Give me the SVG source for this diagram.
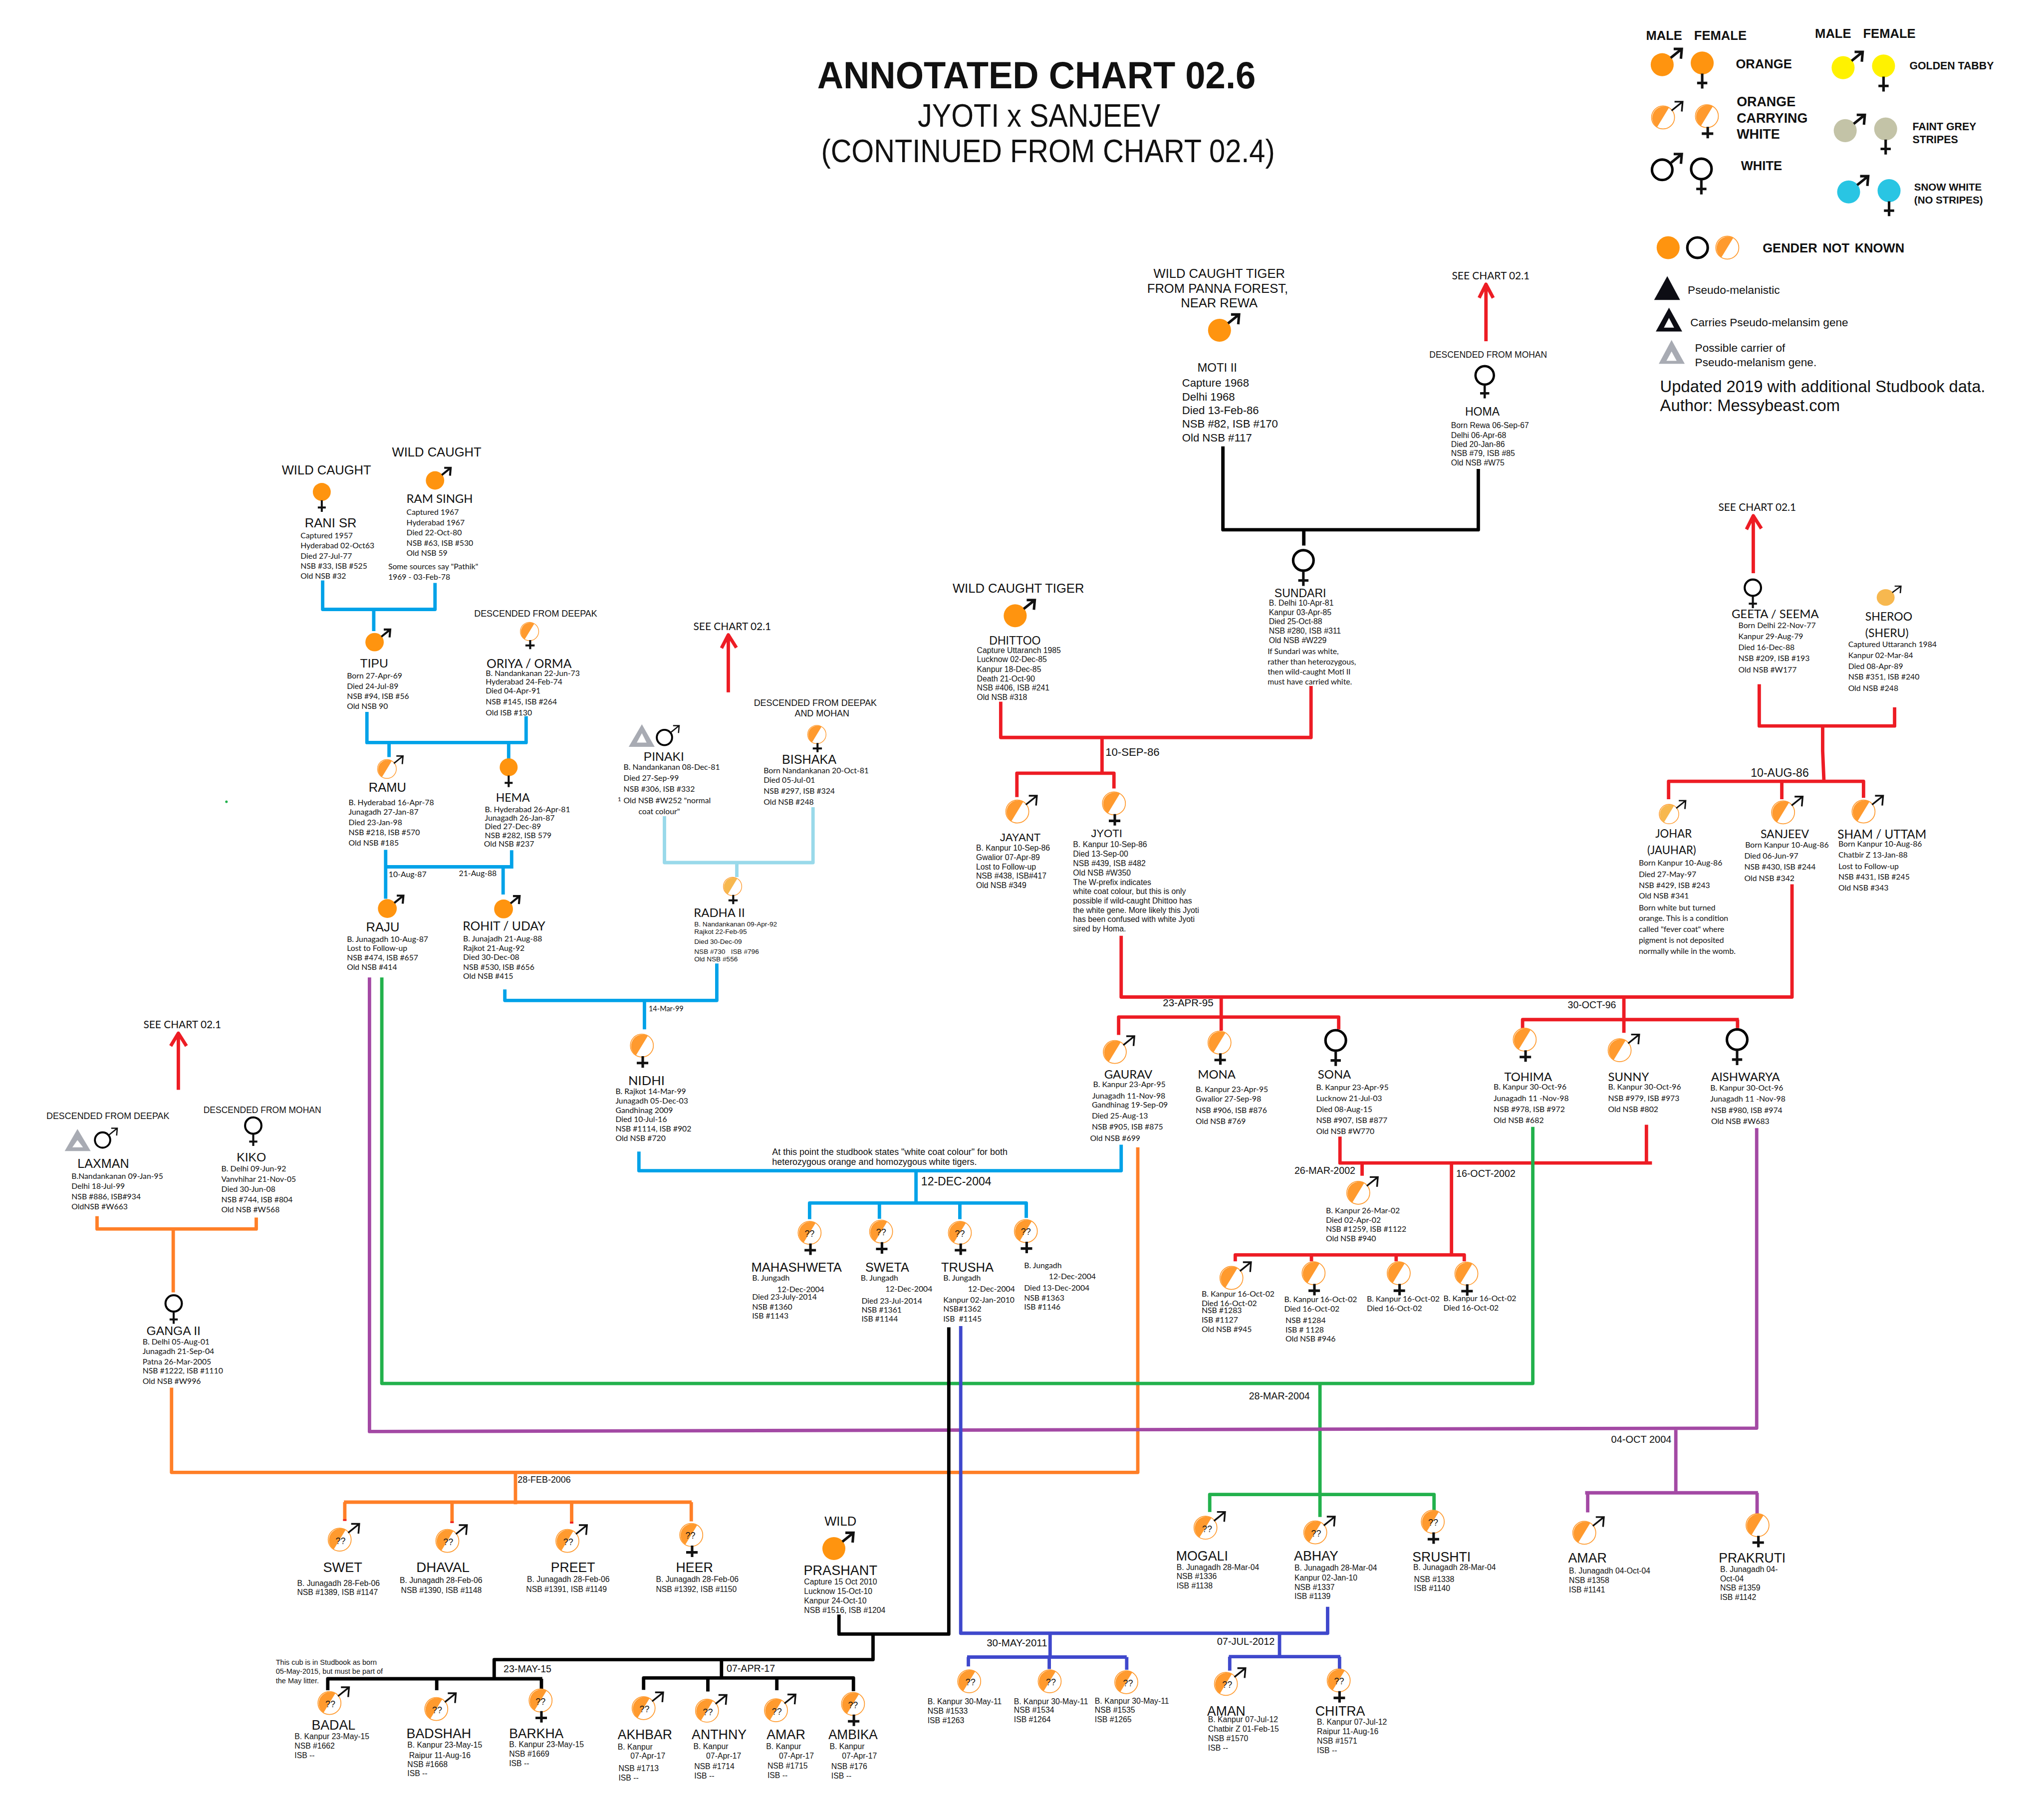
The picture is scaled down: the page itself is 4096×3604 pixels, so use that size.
<svg xmlns="http://www.w3.org/2000/svg" xmlns:xlink="http://www.w3.org/1999/xlink" width="4096" height="3604" viewBox="0 0 4096 3604">
<style>
text{fill:#111;font-family:"Liberation Sans",Arial,sans-serif;white-space:pre}
.d{font:18.5px Lato,"Liberation Sans",sans-serif}
.e{font:18.5px "Liberation Sans",Arial,sans-serif}
.e2{font:16px "Liberation Sans",Arial,sans-serif}
.n{font:29px Lato,"Liberation Sans",sans-serif}
.m{font:30px "Liberation Sans",Arial,sans-serif}
.b{font:33px "Liberation Sans",Arial,sans-serif}
.h{font:21px "Liberation Sans",Arial,sans-serif}
.c{font:24.5px Lato,"Liberation Sans",sans-serif}
.f{font:23px "Liberation Sans",Arial,sans-serif}
.q{font:21px "Liberation Sans",Arial,sans-serif;text-anchor:middle}
.lb{font:bold 30px "Liberation Sans",Arial,sans-serif}
.ls{font:bold 25px "Liberation Sans",Arial,sans-serif}
.ll{font:26.5px "Liberation Sans",Arial,sans-serif}
.lu{font:38.4px "Liberation Sans",Arial,sans-serif}
.w{font:30px "Liberation Sans",Arial,sans-serif}
#links path{fill:none;stroke-width:8;stroke-linejoin:round}
.sb{stroke:#00a2e8}.sl{stroke:#99d9ea}.sr{stroke:#ed1c24}.sg{stroke:#22b14c}.sp{stroke:#a349a4}.so{stroke:#ff7f27}.sk{stroke:#000}.si{stroke:#3f48cc}
.ar{fill:none;stroke:#111;stroke-width:6}
.at{fill:none;stroke:#111;stroke-width:4}
.cw{fill:#fff;stroke:#ff9a2e;stroke-width:2}
.co{fill:#ff940f}
.cf{fill:#ff9a2e}
.ct{fill:#f7b84f}
.wh{fill:#fff;stroke:#000;stroke-width:6}
</style>
<defs>
<path id="ma" class="ar" d="M20-16L46-37M27-37H46L44-14"/>
<path id="mt" class="at" d="M20-16L46-37M27-37H46L44-14"/>
<path id="fa" class="ar" d="M0 25V60M-12 47H12"/>
<path id="ft" class="ar" d="M2 25V52M-12 41H15"/>
<circle id="bo" class="co" r="27"/>
<g id="bh"><circle class="cw" r="27"/><path class="cf" d="M14-23A27 27 0 0 0-14 23Z"/></g>
<g id="bt"><circle class="cw" r="27"/><path class="ct" d="M14-23A27 27 0 0 0-14 23Z"/></g>
<g id="om"><use href="#bo"/><use href="#ma"/></g>
<g id="of"><use href="#bo"/><use href="#fa"/></g>
<g id="hm"><use href="#bh"/><use href="#mt"/></g>
<g id="hf"><use href="#bh"/><use href="#ft"/></g>
<g id="wm"><circle class="wh" r="24"/><use href="#ma"/></g>
<g id="wf"><circle class="wh" r="24"/><use href="#fa"/></g>
</defs>
<rect width="4096" height="3604" fill="#fff"/>
<g transform="scale(.85298)">
<g id="title">
<text x="1920" y="208" textLength="1030" lengthAdjust="spacingAndGlyphs" style="font:bold 90px 'Liberation Sans',Arial,sans-serif">ANNOTATED CHART 02.6</text>
<text x="2156" y="298" textLength="570" lengthAdjust="spacingAndGlyphs" style="font:76px 'Liberation Sans',Arial,sans-serif">JYOTI x SANJEEV</text>
<text x="1929" y="381" textLength="1066" lengthAdjust="spacingAndGlyphs" style="font:76px 'Liberation Sans',Arial,sans-serif">(CONTINUED FROM CHART 02.4)</text>
</g>
<g id="links">
<path class="sb" d="M758 1364V1432H1022V1370M878 1432V1483M862 1673V1745H1236V1683M914 1745V1779M1195 1745V1784M906 1997V2112M906 2037H1206M1202 1998V2039M1182 2037V2102M1186 2325V2351H1684V2264M1514 2351V2419M1501 2706V2751H2634V2690M2152 2751V2827M1902 2865V2827H2411V2862M2066 2827V2864M2255 2827V2865"/>
<path class="sl" d="M1561 1918V2027H1910V1897M1731 2027V2061"/>
<path class="sr" d="M1711 1627V1492M1695 1523L1711 1492L1730 1522M419 2561V2428M401 2458L419 2428L438 2458M3491 802V668M3475 700L3491 668L3508 700M4119 1347V1212M4103 1244L4119 1212L4138 1242M3080 1612V1733H2351V1649M2589 1733V1817M2389 1873V1817H2617V1853M4133 1608V1706H4451V1662M4282 1706V1765L4285 1836M3920 1878V1836H4378V1875M4186 1836V1878M2634 2199V2343H4210V2078M2869 2343V2422M2628 2432V2390H3145V2419M3815 2343V2427M3577 2416V2396H4085M4082 2396V2416M3148 2671V2733H3881M3868 2643V2734M3200 2733V2763M3410 2733V2949M2902 2964V2949H3440V2964M3081 2949V2964M3280 2949V2964"/>
<path class="so" d="M228 2858V2888H602V2861M407 2888V3037M403 3261V3460H2673V2696M1211 3460V3535M808 3530H1625M810 3530V3574M1062 3530V3579M1343 3530V3580M1624 3530V3575"/>
<path class="sr" d="M810 3570V3574M1062 3575V3579M1343 3576V3580"/>
<path class="sg" d="M897 2297V3251H3601V2648M3101 3251V3565M2842 3553V3512H3369V3551"/>
<path class="sp" d="M868 2297V3364L4127 3356V2651M3937 3358V3506M3724 3508H4130M3730 3508V3554M4128 3508V3560"/>
<path class="sk" d="M2873 1049V1245H3473V1102M3063 1243V1282M2229 3119V3840H1971V3794M2051 3840V3900H1161V3942M770 3972V3945H1274M1026 3945V3972M1272 3945V3969M1695 3900V3944M1512 3971V3943H2005V3974M1663 3943V3975M1825 3943V3972"/>
<path class="si" d="M2257 3116V3838H3119V3776M2467 3838V3894M2272 3894H2647M2275 3894V3916M2465 3894V3922M2647 3894V3924M3006 3838V3893M2887 3893H3149M2889 3893V3926M3147 3893V3923"/>
</g>
<circle cx="532" cy="1884" r="3" fill="#22b14c"/>

<g id="n-rani"><text class="w" x="662" y="1115">WILD CAUGHT</text><use href="#of" transform="translate(756 1156) scale(.78)"/><text class="m" x="716" y="1239">RANI SR</text><text class="d"><tspan x="706" y="1265">Captured 1957</tspan><tspan x="706" y="1289">Hyderabad 02-Oct63</tspan><tspan x="706" y="1313">Died 27-Jul-77</tspan><tspan x="706" y="1337">NSB #33, ISB #525</tspan><tspan x="706" y="1360">Old NSB #32</tspan></text></g>
<g id="n-ramsingh"><text class="w" x="921" y="1073">WILD CAUGHT</text><use href="#om" transform="translate(1022 1129) scale(.8)"/><text class="n" x="955" y="1182" style="font-size:28px">RAM SINGH</text><text class="d"><tspan x="955" y="1210">Captured 1967</tspan><tspan x="955" y="1235">Hyderabad 1967</tspan><tspan x="955" y="1258">Died 22-Oct-80</tspan><tspan x="955" y="1283">NSB #63, ISB #530</tspan><tspan x="955" y="1306">Old NSB 59</tspan><tspan x="912" y="1338">Some sources say "Pathik"</tspan><tspan x="912" y="1362">1969 - 03-Feb-78</tspan></text></g>
<g id="n-tipu"><use href="#om" transform="translate(880 1509) scale(.8)"/><text class="m" x="846" y="1569" style="font-size:29px">TIPU</text><text class="d"><tspan x="815" y="1594">Born 27-Apr-69</tspan><tspan x="815" y="1619">Died 24-Jul-89</tspan><tspan x="815" y="1642">NSB #94, ISB #56</tspan><tspan x="815" y="1666">Old NSB 90</tspan></text></g>
<g id="n-oriya"><text class="h" x="1114" y="1449">DESCENDED FROM DEEPAK</text><use href="#hf" transform="translate(1244 1484) scale(.8)"/><text class="n" x="1143" y="1570">ORIYA / ORMA</text><text class="d"><tspan x="1141" y="1589">B. Nandankanan 22-Jun-73</tspan><tspan x="1141" y="1609">Hyderabad 24-Feb-74</tspan><tspan x="1141" y="1629">Died 04-Apr-91</tspan><tspan x="1141" y="1655">NSB #145, ISB #264</tspan><tspan x="1141" y="1681">Old ISB #130</tspan></text></g>
<g id="n-ramu"><use href="#hm" transform="translate(909 1807) scale(.82)"/><text class="m" x="866" y="1860">RAMU</text><text class="d"><tspan x="819" y="1892">B. Hyderabad 16-Apr-78</tspan><tspan x="819" y="1915">Junagadh 27-Jan-87</tspan><tspan x="819" y="1939">Died 23-Jan-98</tspan><tspan x="819" y="1963">NSB #218, ISB #570</tspan><tspan x="819" y="1987">Old NSB #185</tspan></text></g>
<g id="n-hema"><use href="#of" transform="translate(1195 1803) scale(.78)"/><text class="n" x="1165" y="1884" style="font-size:27px">HEMA</text><text class="d"><tspan x="1139" y="1909">B. Hyderabad 26-Apr-81</tspan><tspan x="1139" y="1929">Junagadh 26-Jan-87</tspan><tspan x="1139" y="1949">Died 27-Dec-89</tspan><tspan x="1139" y="1969">NSB #282, ISB 579</tspan><tspan x="1137" y="1990">Old NSB #237</tspan></text></g>
<g id="n-raju"><text class="d" x="913" y="2061">10-Aug-87</text><use href="#om" transform="translate(910 2135) scale(.82)"/><text class="m" x="860" y="2189">RAJU</text><text class="d"><tspan x="815" y="2214">B. Junagadh 10-Aug-87</tspan><tspan x="815" y="2235">Lost to Follow-up</tspan><tspan x="815" y="2257">NSB #474, ISB #657</tspan><tspan x="815" y="2279">Old NSB #414</tspan></text></g>
<g id="n-rohit"><text class="d" x="1078" y="2059">21-Aug-88</text><use href="#om" transform="translate(1183 2136) scale(.82)"/><text class="n" x="1087" y="2187">ROHIT / UDAY</text><text class="d"><tspan x="1088" y="2212">B. Junajadh 21-Aug-88</tspan><tspan x="1088" y="2235">Rajkot 21-Aug-92</tspan><tspan x="1088" y="2256">Died 30-Dec-08</tspan><tspan x="1088" y="2279">NSB #530, ISB #656</tspan><tspan x="1088" y="2300">Old NSB #415</tspan></text></g>
<g id="n-pinaki"><text class="c" x="1629" y="1481">SEE CHART 02.1</text><path fill="#a8abb3" fill-rule="evenodd" d="M1477 1755L1508 1702L1538 1755ZM1508 1723L1496 1745H1519Z"/><g transform="translate(1561 1733) scale(.75)"><circle r="24" fill="none" stroke="#000" stroke-width="6"/><use href="#mt"/></g><text class="m" x="1512" y="1788" style="font-size:29px">PINAKI</text><text class="d"><tspan x="1465" y="1809">B. Nandankanan 08-Dec-81</tspan><tspan x="1465" y="1835">Died 27-Sep-99</tspan><tspan x="1465" y="1861">NSB #306, ISB #332</tspan><tspan x="1465" y="1887">Old NSB #W252 "normal</tspan><tspan x="1500" y="1913">coat colour"</tspan></text><text class="d" x="1451" y="1883" style="font-size:14px">1</text></g>
<g id="n-bishaka"><text class="h"><tspan x="1771" y="1659">DESCENDED FROM DEEPAK</tspan><tspan x="1867" y="1683">AND MOHAN</tspan></text><use href="#hf" transform="translate(1919 1726) scale(.8)"/><text class="m" x="1837" y="1795" style="font-size:29.5px">BISHAKA</text><text class="d"><tspan x="1794" y="1817">Born Nandankanan 20-Oct-81</tspan><tspan x="1794" y="1840">Died 05-Jul-01</tspan><tspan x="1794" y="1865">NSB #297, ISB #324</tspan><tspan x="1794" y="1891">Old NSB #248</tspan></text></g>
<g id="n-radha"><g transform="translate(1721 2083) scale(.8)"><use href="#bt"/><use href="#ft"/></g><text class="n" x="1630" y="2155" style="font-size:28px">RADHA II</text><text class="e2"><tspan x="1631" y="2177">B. Nandankanan 09-Apr-92</tspan><tspan x="1631" y="2195">Rajkot 22-Feb-95</tspan><tspan x="1631" y="2218">Died 30-Dec-09</tspan><tspan x="1631" y="2241">NSB #730   ISB #796</tspan><tspan x="1631" y="2259">Old NSB #556</tspan></text></g>
<g id="n-nidhi"><text class="d" x="1524" y="2376" style="font-size:17px">14-Mar-99</text><use href="#hf" transform="translate(1508 2457)"/><text class="n" x="1476" y="2550" style="font-size:30px">NIDHI</text><text class="d"><tspan x="1446" y="2571">B. Rajkot 14-Mar-99</tspan><tspan x="1446" y="2593">Junagadh 05-Dec-03</tspan><tspan x="1446" y="2615">Gandhinag 2009</tspan><tspan x="1446" y="2637">Died 10-Jul-16</tspan><tspan x="1446" y="2659">NSB #1114, ISB #902</tspan><tspan x="1446" y="2681">Old NSB #720</tspan></text></g>
<g id="note-coat"><text class="e" style="font-size:21px"><tspan x="1814" y="2714">At this point the studbook states "white coat colour" for both</tspan><tspan x="1814" y="2738">heterozygous orange and homozygous white tigers.</tspan></text><text class="f" x="2164" y="2786" style="font-size:27px">12-DEC-2004</text></g>
<g id="n-mahashweta"><use href="#hf" transform="translate(1902 2897)"/><text class="q" x="1902" y="2906">??</text><text class="m" x="1765" y="2988">MAHASHWETA</text><text class="d"><tspan x="1767" y="3010">B. Jungadh</tspan><tspan x="1826" y="3036">12-Dec-2004</tspan><tspan x="1767" y="3054">Died 23-July-2014</tspan><tspan x="1767" y="3077">NSB #1360</tspan><tspan x="1767" y="3098">ISB #1143</tspan></text></g>
<g id="n-sweta"><use href="#hf" transform="translate(2070 2894)"/><text class="q" x="2070" y="2903">??</text><text class="m" x="2033" y="2988" style="font-size:29.5px">SWETA</text><text class="d"><tspan x="2022" y="3009">B. Jungadh</tspan><tspan x="2080" y="3035">12-Dec-2004</tspan><tspan x="2024" y="3063">Died 23-Jul-2014</tspan><tspan x="2024" y="3084">NSB #1361</tspan><tspan x="2024" y="3106">ISB #1144</tspan></text></g>
<g id="n-trusha"><use href="#hf" transform="translate(2255 2897)"/><text class="q" x="2255" y="2906">??</text><text class="m" x="2211" y="2988">TRUSHA</text><text class="d"><tspan x="2216" y="3009">B. Jungadh</tspan><tspan x="2274" y="3035">12-Dec-2004</tspan><tspan x="2216" y="3061">Kanpur 02-Jan-2010</tspan><tspan x="2216" y="3082">NSB#1362</tspan><tspan x="2216" y="3105">ISB  #1145</tspan></text></g>
<g id="n-cub-dec"><use href="#hf" transform="translate(2410 2893)"/><text class="q" x="2410" y="2902">??</text><text class="d"><tspan x="2406" y="2980">B. Jungadh</tspan><tspan x="2464" y="3006">12-Dec-2004</tspan><tspan x="2406" y="3033">Died 13-Dec-2004</tspan><tspan x="2406" y="3056">NSB #1363</tspan><tspan x="2406" y="3077">ISB #1146</tspan></text></g>

<g id="n-moti"><text class="w"><tspan x="2710" y="653">WILD CAUGHT TIGER</tspan><tspan x="2695" y="688">FROM PANNA FOREST,</tspan><tspan x="2774" y="722">NEAR REWA</tspan></text><use href="#om" transform="translate(2865 776)"/><text class="m" x="2813" y="873" style="font-size:28px">MOTI II</text><text style="font:26px 'Liberation Sans',Arial,sans-serif"><tspan x="2777" y="909">Capture 1968</tspan><tspan x="2777" y="941">Delhi 1968</tspan><tspan x="2777" y="973">Died 13-Feb-86</tspan><tspan x="2777" y="1005">NSB #82, ISB #170</tspan><tspan x="2777" y="1037">Old NSB #117</tspan></text></g>
<g id="n-homa"><text class="c" x="3411" y="656">SEE CHART 02.1</text><text class="h" x="3358" y="841" style="font-size:20.5px">DESCENDED FROM MOHAN</text><use href="#wf" transform="translate(3488 882) scale(.9)"/><text class="m" x="3442" y="977" style="font-size:27px">HOMA</text><text class="e"><tspan x="3409" y="1006">Born Rewa 06-Sep-67</tspan><tspan x="3409" y="1029">Delhi 06-Apr-68</tspan><tspan x="3409" y="1050">Died 20-Jan-86</tspan><tspan x="3409" y="1072">NSB #79, ISB #85</tspan><tspan x="3409" y="1094">Old NSB #W75</tspan></text></g>
<g id="n-sundari"><use href="#wf" transform="translate(3062 1317)"/><text class="m" x="2994" y="1403" style="font-size:27px">SUNDARI</text><text class="e"><tspan x="2981" y="1423">B. Delhi 10-Apr-81</tspan><tspan x="2981" y="1445">Kanpur 03-Apr-85</tspan><tspan x="2981" y="1467">Died 25-Oct-88</tspan><tspan x="2981" y="1489">NSB #280, ISB #311</tspan><tspan x="2981" y="1511">Old NSB #W229</tspan></text><text class="d"><tspan x="2978" y="1537">If Sundari was white,</tspan><tspan x="2978" y="1561">rather than heterozygous,</tspan><tspan x="2978" y="1585">then wild-caught Moti II</tspan><tspan x="2978" y="1609">must have carried white.</tspan></text></g>
<g id="n-dhittoo"><text class="w" x="2238" y="1393">WILD CAUGHT TIGER</text><use href="#om" transform="translate(2385 1447)"/><text class="m" x="2324" y="1515" style="font-size:27px">DHITTOO</text><text class="e"><tspan x="2295" y="1535">Capture Uttaranch 1985</tspan><tspan x="2295" y="1556">Lucknow 02-Dec-85</tspan><tspan x="2295" y="1579">Kanpur 18-Dec-85</tspan><tspan x="2295" y="1601">Death 21-Oct-90</tspan><tspan x="2295" y="1622">NSB #406, ISB #241</tspan><tspan x="2295" y="1645">Old NSB #318</tspan></text><text class="f" x="2597" y="1776" style="font-size:26px">10-SEP-86</text></g>
<g id="n-jayant"><use href="#hm" transform="translate(2390 1907)"/><text class="m" x="2349" y="1977" style="font-size:26px">JAYANT</text><text class="e"><tspan x="2293" y="1999">B. Kanpur 10-Sep-86</tspan><tspan x="2293" y="2021">Gwalior 07-Apr-89</tspan><tspan x="2293" y="2043">Lost to Follow-up</tspan><tspan x="2293" y="2065">NSB #438, ISB#417</tspan><tspan x="2293" y="2087">Old NSB #349</tspan></text></g>
<g id="n-jyoti"><use href="#hf" transform="translate(2617 1888)"/><text class="m" x="2563" y="1967" style="font-size:26px">JYOTI</text><text class="e"><tspan x="2521" y="1991">B. Kanpur 10-Sep-86</tspan><tspan x="2521" y="2013">Died 13-Sep-00</tspan><tspan x="2521" y="2035">NSB #439, ISB #482</tspan><tspan x="2521" y="2057">Old NSB #W350</tspan><tspan x="2521" y="2080">The W-prefix indicates</tspan><tspan x="2521" y="2101">white coat colour, but this is only</tspan><tspan x="2521" y="2123">possible if wild-caught Dhittoo has</tspan><tspan x="2521" y="2145">the white gene. More likely this Jyoti</tspan><tspan x="2521" y="2167">has been confused with white Jyoti</tspan><tspan x="2521" y="2189">sired by Homa.</tspan></text></g>
<g id="n-geeta"><text class="c" x="4037" y="1200">SEE CHART 02.1</text><use href="#wf" transform="translate(4118 1381) scale(.8)"/><text class="n" x="4068" y="1453" style="font-size:28px">GEETA / SEEMA</text><text class="d"><tspan x="4084" y="1476">Born Delhi 22-Nov-77</tspan><tspan x="4084" y="1502">Kanpur 29-Aug-79</tspan><tspan x="4084" y="1528">Died 16-Dec-88</tspan><tspan x="4084" y="1553">NSB #209, ISB #193</tspan><tspan x="4084" y="1580">Old NSB #W177</tspan></text></g>
<g id="n-sheroo"><g transform="translate(4430 1404) scale(.78 .72)"><circle class="ct" r="27"/><use href="#mt"/></g><text class="n" style="font-size:27px"><tspan x="4382" y="1458">SHEROO</tspan><tspan x="4382" y="1497">(SHERU)</tspan></text><text class="d"><tspan x="4342" y="1520">Captured Uttaranch 1984</tspan><tspan x="4342" y="1546">Kanpur 02-Mar-84</tspan><tspan x="4342" y="1572">Died 08-Apr-89</tspan><tspan x="4342" y="1597">NSB #351, ISB #240</tspan><tspan x="4342" y="1624">Old NSB #248</tspan></text></g>
<g id="n-johar"><text class="f" x="4113" y="1825" style="font-size:27px">10-AUG-86</text><g transform="translate(3921 1913) scale(.85)"><use href="#bt"/><use href="#mt"/></g><text class="n" style="font-size:26px"><tspan x="3889" y="1968">JOHAR</tspan><tspan x="3870" y="2007">(JAUHAR)</tspan></text><text class="d"><tspan x="3850" y="2034">Born Kanpur 10-Aug-86</tspan><tspan x="3850" y="2061">Died 27-May-97</tspan><tspan x="3850" y="2087">NSB #429, ISB #243</tspan><tspan x="3850" y="2112">Old NSB #341</tspan><tspan x="3850" y="2139">Born white but turned</tspan><tspan x="3850" y="2164">orange. This is a condition</tspan><tspan x="3850" y="2190">called "fever coat" where</tspan><tspan x="3850" y="2216">pigment is not deposited</tspan><tspan x="3850" y="2242">normally while in the womb.</tspan></text></g>
<g id="n-sanjeev"><use href="#hm" transform="translate(4189 1909)"/><text class="n" x="4136" y="1970" style="font-size:27px">SANJEEV</text><text class="d"><tspan x="4100" y="1992">Born Kanpur 10-Aug-86</tspan><tspan x="4098" y="2018">Died 06-Jun-97</tspan><tspan x="4098" y="2043">NSB #430, ISB #244</tspan><tspan x="4098" y="2070">Old NSB #342</tspan></text></g>
<g id="n-sham"><use href="#hm" transform="translate(4378 1907)"/><text class="n" x="4317" y="1971" style="font-size:28.5px">SHAM / UTTAM</text><text class="d"><tspan x="4319" y="1990">Born Kanpur 10-Aug-86</tspan><tspan x="4319" y="2015">Chatbir Z 13-Jan-88</tspan><tspan x="4319" y="2042">Lost to Follow-up</tspan><tspan x="4319" y="2067">NSB #431, ISB #245</tspan><tspan x="4319" y="2093">Old NSB #343</tspan></text></g>

<g id="n-gaurav"><text class="f" x="2732" y="2365" style="font-size:24px">23-APR-95</text><use href="#hm" transform="translate(2619 2472)"/><text class="n" x="2594" y="2535" style="font-size:28px">GAURAV</text><text class="d"><tspan x="2568" y="2555">B. Kanpur 23-Apr-95</tspan><tspan x="2566" y="2581">Junagadh 11-Nov-98</tspan><tspan x="2565" y="2603">Gandhinag 19-Sep-09</tspan><tspan x="2565" y="2629">Died 25-Aug-13</tspan><tspan x="2565" y="2654">NSB #905, ISB #875</tspan><tspan x="2561" y="2681">Old NSB #699</tspan></text></g>
<g id="n-mona"><use href="#hf" transform="translate(2865 2450)"/><text class="n" x="2814" y="2535" style="font-size:28px">MONA</text><text class="d"><tspan x="2809" y="2566">B. Kanpur 23-Apr-95</tspan><tspan x="2809" y="2589">Gwalior 27-Sep-98</tspan><tspan x="2809" y="2615">NSB #906, ISB #876</tspan><tspan x="2809" y="2641">Old NSB #769</tspan></text></g>
<g id="n-sona"><use href="#wf" transform="translate(3138 2445)"/><text class="n" x="3096" y="2535" style="font-size:28px">SONA</text><text class="d"><tspan x="3092" y="2562">B. Kanpur 23-Apr-95</tspan><tspan x="3092" y="2587">Lucknow 21-Jul-03</tspan><tspan x="3092" y="2613">Died 08-Aug-15</tspan><tspan x="3092" y="2639">NSB #907, ISB #877</tspan><tspan x="3092" y="2665">Old NSB #W770</tspan></text></g>
<g id="n-tohima"><text class="f" x="3683" y="2369">30-OCT-96</text><use href="#hf" transform="translate(3582 2443)"/><text class="n" x="3534" y="2540" style="font-size:28px">TOHIMA</text><text class="d"><tspan x="3509" y="2561">B. Kanpur 30-Oct-96</tspan><tspan x="3509" y="2587">Junagadh 11 -Nov-98</tspan><tspan x="3509" y="2613">NSB #978, ISB #972</tspan><tspan x="3509" y="2639">Old NSB #682</tspan></text></g>
<g id="n-sunny"><use href="#hm" transform="translate(3805 2468)"/><text class="n" x="3778" y="2540" style="font-size:28px">SUNNY</text><text class="d"><tspan x="3778" y="2561">B. Kanpur 30-Oct-96</tspan><tspan x="3778" y="2587">NSB #979, ISB #973</tspan><tspan x="3778" y="2613">Old NSB #802</tspan></text></g>
<g id="n-aishwarya"><use href="#wf" transform="translate(4081 2443)"/><text class="n" x="4020" y="2540" style="font-size:28px">AISHWARYA</text><text class="d"><tspan x="4018" y="2563">B. Kanpur 30-Oct-96</tspan><tspan x="4018" y="2589">Junagadh 11 -Nov-98</tspan><tspan x="4020" y="2615">NSB #980, ISB #974</tspan><tspan x="4020" y="2641">Old NSB #W683</tspan></text></g>
<g id="n-son-mar"><text class="f" x="3041" y="2759">26-MAR-2002</text><text class="f" x="3421" y="2766">16-OCT-2002</text><use href="#hm" transform="translate(3191 2803)"/><text class="d"><tspan x="3115" y="2851">B. Kanpur 26-Mar-02</tspan><tspan x="3115" y="2873">Died 02-Apr-02</tspan><tspan x="3115" y="2895">NSB #1259, ISB #1122</tspan><tspan x="3115" y="2917">Old NSB #940</tspan></text></g>
<g id="n-cub-oct1"><use href="#hm" transform="translate(2893 3003)"/><text class="d"><tspan x="2823" y="3047">B. Kanpur 16-Oct-02</tspan><tspan x="2823" y="3069">Died 16-Oct-02</tspan><tspan x="2823" y="3086">NSB #1283</tspan><tspan x="2823" y="3108">ISB #1127</tspan><tspan x="2823" y="3130">Old NSB #945</tspan></text></g>
<g id="n-cub-oct2"><use href="#hf" transform="translate(3086 2992)"/><text class="d"><tspan x="3017" y="3060">B. Kanpur 16-Oct-02</tspan><tspan x="3017" y="3082">Died 16-Oct-02</tspan><tspan x="3020" y="3109">NSB #1284</tspan><tspan x="3020" y="3131">ISB # 1128</tspan><tspan x="3020" y="3152">Old NSB #946</tspan></text></g>
<g id="n-cub-oct3"><use href="#hf" transform="translate(3286 2992)"/><text class="d"><tspan x="3211" y="3059">B. Kanpur 16-Oct-02</tspan><tspan x="3211" y="3081">Died 16-Oct-02</tspan></text></g>
<g id="n-cub-oct4"><use href="#hf" transform="translate(3445 2993)"/><text class="d"><tspan x="3391" y="3058">B. Kanpur 16-Oct-02</tspan><tspan x="3391" y="3080">Died 16-Oct-02</tspan></text></g>

<g id="n-laxman"><text class="c" x="337" y="2416">SEE CHART 02.1</text><text class="h" x="109" y="2630">DESCENDED FROM DEEPAK</text><path fill="#a8abb3" fill-rule="evenodd" d="M152 2705L182 2653L213 2705ZM182 2679L170 2696H195Z"/><g transform="translate(241 2679) scale(.75)"><circle r="24" fill="none" stroke="#000" stroke-width="6"/><use href="#mt"/></g><text class="m" x="182" y="2744" style="font-size:29.5px">LAXMAN</text><text class="d"><tspan x="168" y="2770">B.Nandankanan 09-Jan-95</tspan><tspan x="168" y="2794">Delhi 18-Jul-99</tspan><tspan x="168" y="2818">NSB #886, ISB#934</tspan><tspan x="168" y="2842">OldNSB #W663</tspan></text></g>
<g id="n-kiko"><text class="h" x="478" y="2616" style="font-size:20.5px">DESCENDED FROM MOHAN</text><use href="#wf" transform="translate(595 2645) scale(.8)"/><text class="m" x="556" y="2729" style="font-size:29px">KIKO</text><text class="d"><tspan x="520" y="2753">B. Delhi 09-Jun-92</tspan><tspan x="520" y="2777">Vanvhihar 21-Nov-05</tspan><tspan x="520" y="2801">Died 30-Jun-08</tspan><tspan x="520" y="2825">NSB #744, ISB #804</tspan><tspan x="520" y="2849">Old NSB #W568</tspan></text></g>
<g id="n-ganga"><use href="#wf" transform="translate(408 3063) scale(.8)"/><text class="m" x="344" y="3137" style="font-size:29px">GANGA II</text><text class="d"><tspan x="335" y="3159">B. Delhi 05-Aug-01</tspan><tspan x="335" y="3182">Junagadh 21-Sep-04</tspan><tspan x="335" y="3206">Patna 26-Mar-2005</tspan><tspan x="335" y="3228">NSB #1222, ISB #1110</tspan><tspan x="335" y="3252">Old NSB #W996</tspan></text></g>

<g id="dates-low"><text class="e" x="2934" y="3289" style="font-size:23px">28-MAR-2004</text><text class="e" x="1216" y="3484" style="font-size:21px">28-FEB-2006</text><text class="e" x="3785" y="3391" style="font-size:23.5px">04-OCT 2004</text><text class="e" x="2318" y="3869" style="font-size:24px">30-MAY-2011</text><text class="e" x="2859" y="3865" style="font-size:23.5px">07-JUL-2012</text></g>
<g id="n-swet"><use href="#hm" transform="translate(798 3618)"/><text class="q" x="800" y="3628">??</text><text class="b" x="759" y="3694" textLength="92" lengthAdjust="spacingAndGlyphs">SWET</text><text class="e"><tspan x="698" y="3727">B. Junagadh 28-Feb-06</tspan><tspan x="698" y="3748">NSB #1389, ISB #1147</tspan></text></g>
<g id="n-dhaval"><use href="#hm" transform="translate(1051 3621)"/><text class="q" x="1053" y="3631">??</text><text class="b" x="978" y="3694" textLength="125" lengthAdjust="spacingAndGlyphs">DHAVAL</text><text class="e"><tspan x="939" y="3720">B. Junagadh 28-Feb-06</tspan><tspan x="942" y="3743">NSB #1390, ISB #1148</tspan></text></g>
<g id="n-preet"><use href="#hm" transform="translate(1333 3621)"/><text class="q" x="1335" y="3631">??</text><text class="b" x="1294" y="3694" textLength="104" lengthAdjust="spacingAndGlyphs">PREET</text><text class="e"><tspan x="1238" y="3717">B. Junagadh 28-Feb-06</tspan><tspan x="1236" y="3741">NSB #1391, ISB #1149</tspan></text></g>
<g id="n-heer"><use href="#hf" transform="translate(1624 3607)"/><text class="q" x="1622" y="3616">??</text><text class="b" x="1588" y="3694" textLength="87" lengthAdjust="spacingAndGlyphs">HEER</text><text class="e"><tspan x="1541" y="3717">B. Junagadh 28-Feb-06</tspan><tspan x="1541" y="3741">NSB #1392, ISB #1150</tspan></text></g>
<g id="n-prashant"><text class="w" x="1937" y="3585">WILD</text><use href="#om" transform="translate(1959 3639)"/><text class="b" x="1888" y="3701" textLength="173" lengthAdjust="spacingAndGlyphs">PRASHANT</text><text class="e"><tspan x="1889" y="3724">Capture 15 Oct 2010</tspan><tspan x="1889" y="3746">Lucknow 15-Oct-10</tspan><tspan x="1889" y="3768">Kanpur 24-Oct-10</tspan><tspan x="1889" y="3790">NSB #1516, ISB #1204</tspan></text></g>
<g id="note-cub"><text class="e" style="font-size:17px"><tspan x="648" y="3912">This cub is in Studbook as born</tspan><tspan x="648" y="3933">05-May-2015, but must be part of</tspan><tspan x="648" y="3955">the May litter.</tspan></text><text class="f" x="1183" y="3930">23-MAY-15</text><text class="f" x="1707" y="3928">07-APR-17</text></g>
<g id="n-badal"><use href="#hm" transform="translate(774 4002)"/><text class="q" x="776" y="4012">??</text><text class="b" x="732" y="4065" textLength="103" lengthAdjust="spacingAndGlyphs">BADAL</text><text class="e"><tspan x="692" y="4087">B. Kanpur 23-May-15</tspan><tspan x="692" y="4109">NSB #1662</tspan><tspan x="692" y="4131">ISB --</tspan></text></g>
<g id="n-badshah"><use href="#hm" transform="translate(1025 4016)"/><text class="q" x="1027" y="4026">??</text><text class="b" x="955" y="4085" textLength="152" lengthAdjust="spacingAndGlyphs">BADSHAH</text><text class="e"><tspan x="957" y="4107">B. Kanpur 23-May-15</tspan><tspan x="961" y="4131">Raipur 11-Aug-16</tspan><tspan x="957" y="4152">NSB #1668</tspan><tspan x="957" y="4174">ISB --</tspan></text></g>
<g id="n-barkha"><use href="#hf" transform="translate(1270 3996)"/><text class="q" x="1270" y="4006">??</text><text class="b" x="1196" y="4085" textLength="128" lengthAdjust="spacingAndGlyphs">BARKHA</text><text class="e"><tspan x="1196" y="4106">B. Kanpur 23-May-15</tspan><tspan x="1196" y="4128">NSB #1669</tspan><tspan x="1196" y="4150">ISB --</tspan></text></g>
<g id="n-akhbar"><use href="#hm" transform="translate(1512 4014)"/><text class="q" x="1514" y="4024">??</text><text class="b" x="1451" y="4087" textLength="128" lengthAdjust="spacingAndGlyphs">AKHBAR</text><text class="e"><tspan x="1451" y="4111">B. Kanpur</tspan><tspan x="1481" y="4132">07-Apr-17</tspan><tspan x="1453" y="4162">NSB #1713</tspan><tspan x="1453" y="4184">ISB --</tspan></text></g>
<g id="n-anthny"><use href="#hm" transform="translate(1661 4020)"/><text class="q" x="1663" y="4030">??</text><text class="b" x="1625" y="4087" textLength="129" lengthAdjust="spacingAndGlyphs">ANTHNY</text><text class="e"><tspan x="1629" y="4110">B. Kanpur</tspan><tspan x="1659" y="4132">07-Apr-17</tspan><tspan x="1631" y="4157">NSB #1714</tspan><tspan x="1631" y="4180">ISB --</tspan></text></g>
<g id="n-amar1"><use href="#hm" transform="translate(1823 4019)"/><text class="q" x="1825" y="4029">??</text><text class="b" x="1801" y="4087" textLength="91" lengthAdjust="spacingAndGlyphs">AMAR</text><text class="e"><tspan x="1800" y="4110">B. Kanpur</tspan><tspan x="1830" y="4132">07-Apr-17</tspan><tspan x="1803" y="4156">NSB #1715</tspan><tspan x="1803" y="4178">ISB --</tspan></text></g>
<g id="n-ambika"><use href="#hf" transform="translate(2004 4004)"/><text class="q" x="2004" y="4014">??</text><text class="b" x="1946" y="4087" textLength="116" lengthAdjust="spacingAndGlyphs">AMBIKA</text><text class="e"><tspan x="1949" y="4110">B. Kanpur</tspan><tspan x="1978" y="4132">07-Apr-17</tspan><tspan x="1953" y="4157">NSB #176</tspan><tspan x="1953" y="4180">ISB --</tspan></text></g>
<g id="n-cub-may1"><use href="#bh" transform="translate(2277 3951)"/><text class="q" x="2280" y="3960">??</text><text class="e"><tspan x="2179" y="4005">B. Kanpur 30-May-11</tspan><tspan x="2179" y="4027">NSB #1533</tspan><tspan x="2179" y="4049">ISB #1263</tspan></text></g>
<g id="n-cub-may2"><use href="#bh" transform="translate(2466 3951)"/><text class="q" x="2469" y="3960">??</text><text class="e"><tspan x="2382" y="4005">B. Kanpur 30-May-11</tspan><tspan x="2382" y="4025">NSB #1534</tspan><tspan x="2382" y="4047">ISB #1264</tspan></text></g>
<g id="n-cub-may3"><use href="#bh" transform="translate(2646 3953)"/><text class="q" x="2650" y="3962">??</text><text class="e"><tspan x="2572" y="4004">B. Kanpur 30-May-11</tspan><tspan x="2572" y="4025">NSB #1535</tspan><tspan x="2572" y="4047">ISB #1265</tspan></text></g>
<g id="n-aman"><use href="#hm" transform="translate(2880 3957)"/><text class="q" x="2883" y="3966">??</text><text class="b" x="2836" y="4032" textLength="90" lengthAdjust="spacingAndGlyphs">AMAN</text><text class="e"><tspan x="2838" y="4047">B. Kanpur 07-Jul-12</tspan><tspan x="2838" y="4069">Chatbir Z 01-Feb-15</tspan><tspan x="2838" y="4091">NSB #1570</tspan><tspan x="2838" y="4114">ISB --</tspan></text></g>
<g id="n-chitra"><use href="#hf" transform="translate(3145 3949)"/><text class="q" x="3146" y="3958">??</text><text class="b" x="3090" y="4032" textLength="117" lengthAdjust="spacingAndGlyphs">CHITRA</text><text class="e"><tspan x="3094" y="4053">B. Kanpur 07-Jul-12</tspan><tspan x="3094" y="4075">Raipur 11-Aug-16</tspan><tspan x="3094" y="4097">NSB #1571</tspan><tspan x="3094" y="4120">ISB --</tspan></text></g>
<g id="n-mogali"><use href="#hm" transform="translate(2832 3590)"/><text class="q" x="2836" y="3600">??</text><text class="b" x="2763" y="3667" textLength="122" lengthAdjust="spacingAndGlyphs">MOGALI</text><text class="e"><tspan x="2764" y="3690">B. Junagadh 28-Mar-04</tspan><tspan x="2764" y="3711">NSB #1336</tspan><tspan x="2764" y="3733">ISB #1138</tspan></text></g>
<g id="n-abhay"><use href="#hm" transform="translate(3090 3601)"/><text class="q" x="3092" y="3611">??</text><text class="b" x="3040" y="3667" textLength="104" lengthAdjust="spacingAndGlyphs">ABHAY</text><text class="e"><tspan x="3041" y="3691">B. Junagadh 28-Mar-04</tspan><tspan x="3041" y="3714">Kanpur 02-Jan-10</tspan><tspan x="3041" y="3736">NSB #1337</tspan><tspan x="3041" y="3758">ISB #1139</tspan></text></g>
<g id="n-srushti"><use href="#hf" transform="translate(3366 3576)"/><text class="q" x="3367" y="3585">??</text><text class="b" x="3318" y="3669" textLength="137" lengthAdjust="spacingAndGlyphs">SRUSHTI</text><text class="e"><tspan x="3320" y="3690">B. Junagadh 28-Mar-04</tspan><tspan x="3322" y="3717">NSB #1338</tspan><tspan x="3322" y="3739">ISB #1140</tspan></text></g>
<g id="n-amar2"><use href="#hm" transform="translate(3722 3602)"/><text class="b" x="3684" y="3672" textLength="91" lengthAdjust="spacingAndGlyphs">AMAR</text><text class="e"><tspan x="3686" y="3698">B. Junagadh 04-Oct-04</tspan><tspan x="3686" y="3720">NSB #1358</tspan><tspan x="3686" y="3742">ISB #1141</tspan></text></g>
<g id="n-prakruti"><use href="#hf" transform="translate(4129 3584)"/><text class="b" x="4038" y="3672" textLength="157" lengthAdjust="spacingAndGlyphs">PRAKRUTI</text><text class="e"><tspan x="4041" y="3694">B. Junagadh 04-</tspan><tspan x="4041" y="3716">Oct-04</tspan><tspan x="4041" y="3738">NSB #1359</tspan><tspan x="4041" y="3760">ISB #1142</tspan></text></g>

<g id="legend">
<text class="lb"><tspan x="3867" y="94">MALE</tspan><tspan x="3980" y="94">FEMALE</tspan><tspan x="4264" y="89">MALE</tspan><tspan x="4377" y="89">FEMALE</tspan></text>
<use href="#om" transform="translate(3905 152)"/><use href="#of" transform="translate(3999 148)"/>
<use href="#hm" transform="translate(3907 276)"/><use href="#hf" transform="translate(4010 273)"/>
<use href="#wm" transform="translate(3905 399)"/><use href="#wf" transform="translate(3997 397)"/>
<text class="lb"><tspan x="4078" y="161">ORANGE</tspan><tspan x="4090" y="400">WHITE</tspan></text>
<text class="lb" style="font-size:31.5px"><tspan x="4080" y="250">ORANGE</tspan><tspan x="4080" y="288">CARRYING</tspan><tspan x="4080" y="326">WHITE</tspan></text>
<g transform="translate(4330 159)"><circle r="27" fill="#fff200"/><use href="#ma"/></g><g transform="translate(4425 155)"><circle r="27" fill="#fff200"/><use href="#fa"/></g>
<g transform="translate(4335 307)"><circle r="27" fill="#c3c3a7"/><use href="#ma"/></g><g transform="translate(4430 303)"><circle r="27" fill="#c3c3a7"/><use href="#fa"/></g>
<g transform="translate(4343 451)"><circle r="27" fill="#29c5e3"/><use href="#ma"/></g><g transform="translate(4438 448)"><circle r="27" fill="#29c5e3"/><use href="#fa"/></g>
<text class="ls"><tspan x="4486" y="163">GOLDEN TABBY</tspan><tspan x="4493" y="306">FAINT GREY</tspan><tspan x="4493" y="336">STRIPES</tspan></text>
<text class="ls" style="font-size:24px"><tspan x="4497" y="448">SNOW WHITE</tspan><tspan x="4497" y="478">(NO STRIPES)</tspan></text>
<use href="#bo" transform="translate(3919 582)"/><circle class="wh" cx="3988" cy="582" r="24"/><use href="#bh" transform="translate(4058 582)"/>
<text class="lb" x="4141" y="593" style="word-spacing:4px">GENDER NOT KNOWN</text>
<path fill="#0d0d14" d="M3886 705L3917 649L3947 705Z"/>
<path fill="#0d0d14" fill-rule="evenodd" d="M3890 779L3921 723L3952 779ZM3921 747L3909 770H3933Z"/>
<path fill="#a8abb3" fill-rule="evenodd" d="M3897 855L3927 799L3958 855ZM3927 826L3915 848H3939Z"/>
<text class="ll"><tspan x="3965" y="690">Pseudo-melanistic</tspan><tspan x="3971" y="767">Carries Pseudo-melansim gene</tspan><tspan x="3982" y="827">Possible carrier of</tspan><tspan x="3982" y="860">Pseudo-melanism gene.</tspan></text>
<text class="lu"><tspan x="3900" y="922">Updated 2019 with additional Studbook data.</tspan><tspan x="3900" y="966">Author: Messybeast.com</tspan></text>
</g>
</g>
</svg>
